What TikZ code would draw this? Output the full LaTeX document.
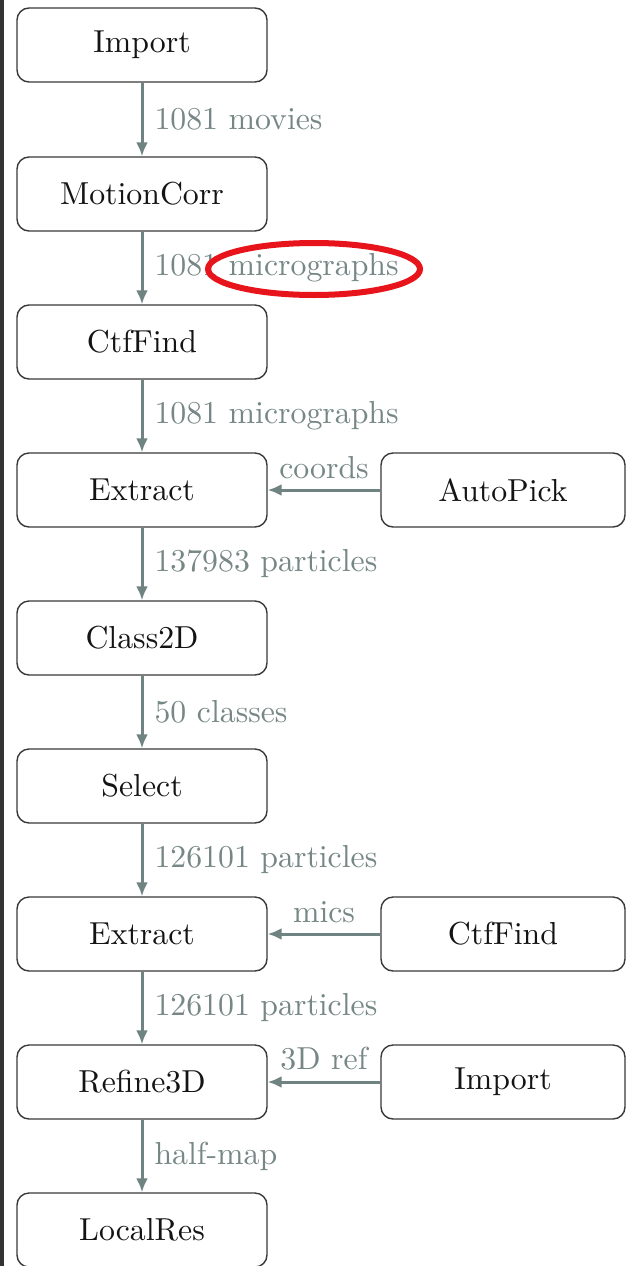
\documentclass[tikz,border=0pt]{standalone}
\usepackage{fontspec}
\setmainfont{lmroman10-regular.otf}
\usetikzlibrary{arrows.meta}
\definecolor{flow}{HTML}{6F8482}
\definecolor{lbl}{HTML}{768786}
\definecolor{boxline}{HTML}{3A3A3A}
\definecolor{mark}{HTML}{E8141B}
\begin{document}
\begin{tikzpicture}[x=1pt,y=-1pt,
  stepbox/.style={draw=boxline, line width=1.4pt, rounded corners=12pt,
    minimum width=250pt, minimum height=74pt, fill=white, inner sep=0pt,
    font=\fontsize{31.8}{38}\selectfont, text=black!92},
  sidebox/.style={stepbox, minimum width=244pt},
  flowarrow/.style={draw=flow, line width=3pt, -{Latex[length=14pt,width=12pt]}},
  flowlabel/.style={text=lbl, inner sep=0pt, font=\fontsize{31.8}{38}\selectfont}]
\useasboundingbox (0,0) rectangle (628,1266);
\fill[white] (0,0) rectangle (628,1266);
\fill[black!80] (0,0) rectangle (4,1266);

\node[stepbox] (import) at (142,45) {Import};
\node[stepbox] (motion) at (142,194) {MotionCorr};
\node[stepbox] (ctf) at (142,342) {CtfFind};
\node[stepbox] (extract1) at (142,490) {Extract};
\node[stepbox] (class) at (142,638) {Class2D};
\node[stepbox] (select) at (142,786) {Select};
\node[stepbox] (extract2) at (142,934) {Extract};
\node[stepbox] (refine) at (142,1082) {Refine3D};
\node[stepbox] (localres) at (142,1230) {LocalRes};

\node[sidebox] (autopick) at (503,490) {AutoPick};
\node[sidebox] (ctf2) at (503,934) {CtfFind};
\node[sidebox] (import2) at (503,1082) {Import};

\draw[flowarrow] (import) -- (motion) node[flowlabel, midway, anchor=west, xshift=11pt] (l1) {1081 movies};
\draw[flowarrow] (motion) -- (ctf) node[flowlabel, midway, anchor=west, xshift=11pt] (l2) {1081 micrographs};
\draw[flowarrow] (ctf) -- (extract1) node[flowlabel, midway, anchor=west, xshift=11pt] (l3) {1081 micrographs};
\draw[flowarrow] (extract1) -- (class) node[flowlabel, midway, anchor=west, xshift=11pt] (l4) {137983 particles};
\draw[flowarrow] (class) -- (select) node[flowlabel, midway, anchor=west, xshift=11pt] (l5) {50 classes};
\draw[flowarrow] (select) -- (extract2) node[flowlabel, midway, anchor=west, xshift=11pt] (l6) {126101 particles};
\draw[flowarrow] (extract2) -- (refine) node[flowlabel, midway, anchor=west, xshift=11pt] (l7) {126101 particles};
\draw[flowarrow] (refine) -- (localres) node[flowlabel, midway, anchor=west, xshift=11pt] (l8) {half-map};

\draw[flowarrow] (autopick) -- (extract1) node[flowlabel, midway, anchor=south, yshift=10pt] (l9) {coords};
\draw[flowarrow] (ctf2) -- (extract2) node[flowlabel, midway, anchor=south, yshift=10pt] (l10) {mics};
\draw[flowarrow] (import2) -- (refine) node[flowlabel, midway, anchor=south, yshift=10pt] (l11) {3D ref};

\draw[draw=mark, line width=6pt] (314,269) ellipse [x radius=106pt, y radius=26pt];
\end{tikzpicture}
\end{document}
